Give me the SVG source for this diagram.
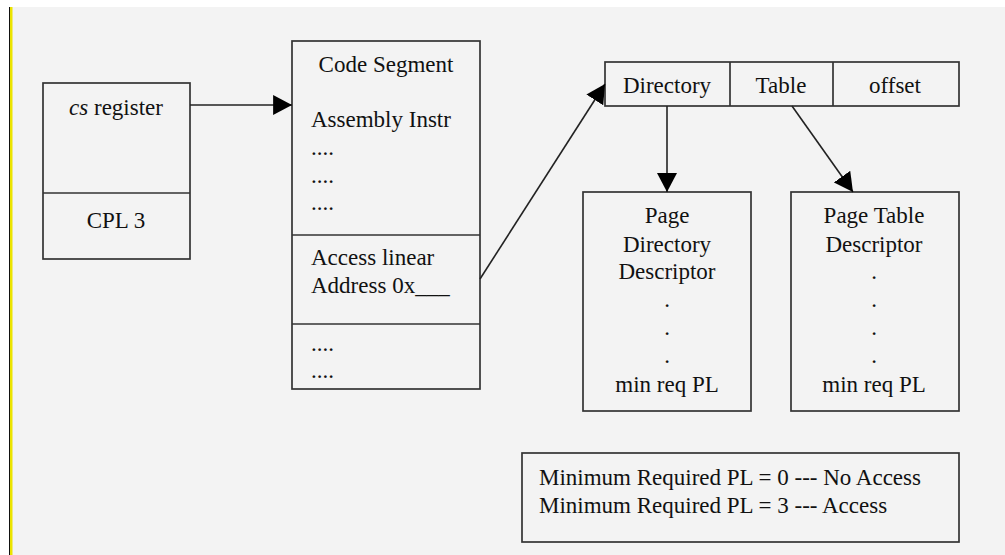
<svg xmlns="http://www.w3.org/2000/svg" width="1005" height="555" viewBox="0 0 1005 555">
<style>
text{font-family:"Liberation Serif","Times New Roman",serif;font-size:23px;fill:#111}
.c{text-anchor:middle}
.box{fill:none;stroke:#333;stroke-width:1.7}
.ln{stroke:#222;stroke-width:1.6;fill:none}
</style>
<defs>
<marker id="ah" markerUnits="userSpaceOnUse" markerWidth="20" markerHeight="20" viewBox="0 0 18 18" refX="17" refY="9" orient="auto">
<path d="M0,0 L17,9 L0,18 Z" fill="#000"/>
</marker>
</defs>
<rect x="0" y="0" width="1005" height="555" fill="#fff"/>
<rect x="12" y="7" width="993" height="548" fill="#f3f3f3"/>
<rect x="9" y="7" width="1" height="548" fill="#111"/>
<rect x="10" y="7" width="2.5" height="548" fill="#ece400"/>

<g id="cs-register">
<rect class="box" x="43" y="83" width="147" height="176"/>
<line class="box" x1="43" y1="193" x2="190" y2="193"/>
<text class="c" x="116" y="115"><tspan font-style="italic">cs</tspan> register</text>
<text class="c" x="116" y="228">CPL 3</text>
</g>

<g id="code-segment">
<rect class="box" x="292" y="41" width="188" height="348"/>
<line class="box" x1="292" y1="235" x2="480" y2="235"/>
<line class="box" x1="292" y1="324" x2="480" y2="324"/>
<text class="c" x="386" y="72">Code Segment</text>
<text x="311" y="127">Assembly Instr</text>
<text x="311" y="155">....</text>
<text x="311" y="183">....</text>
<text x="311" y="210">....</text>
<text x="311" y="265">Access linear</text>
<text x="311" y="293">Address 0x___</text>
<text x="311" y="351">....</text>
<text x="311" y="378">....</text>
</g>

<g id="linear-address">
<rect class="box" x="605" y="62" width="354" height="44"/>
<line class="box" x1="730" y1="62" x2="730" y2="106"/>
<line class="box" x1="833" y1="62" x2="833" y2="106"/>
<text class="c" x="667" y="93">Directory</text>
<text class="c" x="781" y="93">Table</text>
<text class="c" x="895" y="93">offset</text>
</g>

<g id="page-directory">
<rect class="box" x="583" y="192" width="168" height="219"/>
<text class="c" x="667" y="223">Page</text>
<text class="c" x="667" y="252">Directory</text>
<text class="c" x="667" y="279">Descriptor</text>
<text class="c" x="667" y="307">.</text>
<text class="c" x="667" y="335">.</text>
<text class="c" x="667" y="363">.</text>
<text class="c" x="667" y="392">min req PL</text>
</g>

<g id="page-table">
<rect class="box" x="791" y="192" width="168" height="219"/>
<text class="c" x="874" y="223">Page Table</text>
<text class="c" x="874" y="252">Descriptor</text>
<text class="c" x="874" y="279">.</text>
<text class="c" x="874" y="307">.</text>
<text class="c" x="874" y="335">.</text>
<text class="c" x="874" y="363">.</text>
<text class="c" x="874" y="392">min req PL</text>
</g>

<g id="legend">
<rect class="box" x="522" y="453" width="437" height="89"/>
<text x="539" y="485">Minimum Required PL = 0 --- No Access</text>
<text x="539" y="513">Minimum Required PL = 3 --- Access</text>
</g>

<g id="connectors">
<line class="ln" x1="190" y1="105" x2="292" y2="105" marker-end="url(#ah)"/>
<line class="ln" x1="480" y1="279" x2="605" y2="84" marker-end="url(#ah)"/>
<line class="ln" x1="667" y1="106" x2="667" y2="192" marker-end="url(#ah)"/>
<line class="ln" x1="792" y1="106" x2="853" y2="192" marker-end="url(#ah)"/>
</g>
</svg>
